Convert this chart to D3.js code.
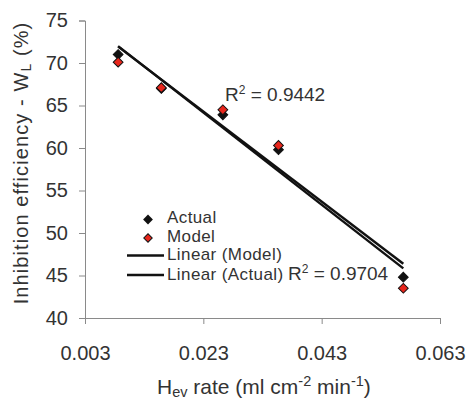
<!DOCTYPE html>
<html lang="en">
<head>
    <meta charset="UTF-8">
    <title>Inhibition efficiency vs Hev rate</title>
    <script src="https://d3js.org/d3.v7.min.js"></script>
    <style>
        body { margin: 0; background: #fff; }
        text { font-family: Arial, 'Liberation Sans', sans-serif; fill: #333; }
        .axis path, .axis line { stroke: #8a8a8a; }
        .axis text { font-size: 20px; fill: #333; }
    </style>
</head>
<body>
<svg height="402" width="468"></svg>
<script>
    // values
    const rates  = [0.0086, 0.0159, 0.0263, 0.0357, 0.0568];
    const actual = [71.0, 67.0, 63.9, 59.8, 44.8];
    const model  = [70.1, 67.1, 64.5, 60.3, 43.5];
    const xTicks = [0.003, 0.023, 0.043, 0.063];
    const yTicks = [40, 45, 50, 55, 60, 65, 70, 75];
    const r2Labels = ["0.9442", "0.9704"];
    const legendNames = ["Actual", "Model", "Linear (Model)", "Linear (Actual)"];

    const svg = d3.select("svg");
    const x = d3.scaleLinear().domain([0.003, 0.063]).range([85, 440]);
    const y = d3.scaleLinear().domain([40, 75]).range([318, 20.5]);

    svg.append("g").attr("class", "axis")
        .attr("transform", "translate(0,318)")
        .call(d3.axisBottom(x).tickValues(xTicks).tickFormat(d3.format(".3f"))
            .tickSizeInner(6).tickSizeOuter(6).tickPadding(22));
    svg.append("g").attr("class", "axis")
        .attr("transform", "translate(85,0)")
        .call(d3.axisLeft(y).tickValues(yTicks).tickSizeInner(6).tickSizeOuter(6).tickPadding(11));

    // least squares fit
    function fit(xs, ys) {
        const mx = d3.mean(xs), my = d3.mean(ys);
        const sxy = d3.sum(xs, (v, i) => (v - mx) * (ys[i] - my));
        const sxx = d3.sum(xs, v => (v - mx) * (v - mx));
        const b = sxy / sxx;
        return t => my + b * (t - mx);
    }
    const ext = d3.extent(rates);
    [model, actual].forEach(series => {
        const f = fit(rates, series);
        svg.append("line")
            .attr("x1", x(ext[0])).attr("y1", y(f(ext[0])))
            .attr("x2", x(ext[1])).attr("y2", y(f(ext[1])))
            .attr("stroke", "#111").attr("stroke-width", 2.4);
    });

    const diamond = d3.symbol().type(d3.symbolSquare).size(48);
    function markers(series, fill) {
        svg.append("g").selectAll("path").data(series).enter().append("path")
            .attr("d", diamond)
            .attr("transform", (d, i) => `translate(${x(rates[i])},${y(d)}) rotate(45)`)
            .attr("fill", fill).attr("stroke", "#111").attr("stroke-width", 1);
    }
    markers(actual, "#111");
    markers(model, "#e8261c");

    // R squared labels
    function r2(xp, yp, val) {
        const t = svg.append("text").attr("x", xp).attr("y", yp).style("font-size", "19px");
        t.append("tspan").text("R");
        t.append("tspan").attr("dy", -7).style("font-size", "12px").text("2");
        t.append("tspan").attr("dy", 7).text(" = " + val);
    }
    r2(225, 101, r2Labels[0]);
    r2(288, 280, r2Labels[1]);

    // legend
    const lg = svg.append("g");
    lg.append("path").attr("d", d3.symbol().type(d3.symbolSquare).size(48))
        .attr("transform", "translate(148,219.5) rotate(45)").attr("fill", "#111");
    lg.append("path").attr("d", d3.symbol().type(d3.symbolSquare).size(36))
        .attr("transform", "translate(148,238) rotate(45)").attr("fill", "#e8261c")
        .attr("stroke", "#111");
    [255.5, 275].forEach(yy => {
        lg.append("line").attr("x1", 127).attr("x2", 164).attr("y1", yy).attr("y2", yy)
            .attr("stroke", "#111").attr("stroke-width", 2.5);
    });
    [222.5, 242, 260, 280].forEach((yy, i) => {
        lg.append("text").attr("x", 167).attr("y", yy).style("font-size", "17px")
            .style("letter-spacing", "0.4px")
            .text(legendNames[i]);
    });

    // axis titles
    const xt = svg.append("text").attr("x", 157).attr("y", 394).style("font-size", "21px");
    xt.append("tspan").text("H");
    xt.append("tspan").attr("dy", 3).style("font-size", "14.5px").text("ev");
    xt.append("tspan").attr("dy", -3).text(" rate (ml cm");
    xt.append("tspan").attr("dy", -8).style("font-size", "14.5px").text("-2");
    xt.append("tspan").attr("dy", 8).text(" min");
    xt.append("tspan").attr("dy", -8).style("font-size", "14.5px").text("-1");
    xt.append("tspan").attr("dy", 8).text(")");

    const yt = svg.append("text")
        .attr("transform", "translate(27.5,163) rotate(-90)")
        .attr("text-anchor", "middle").style("font-size", "20px")
        .style("letter-spacing", "1.1px");
    yt.append("tspan").text("Inhibition efficiency - W");
    yt.append("tspan").attr("dy", 3).style("font-size", "14px").text("L");
    yt.append("tspan").attr("dy", -3).text(" (%)");
</script>
</body>
</html>
